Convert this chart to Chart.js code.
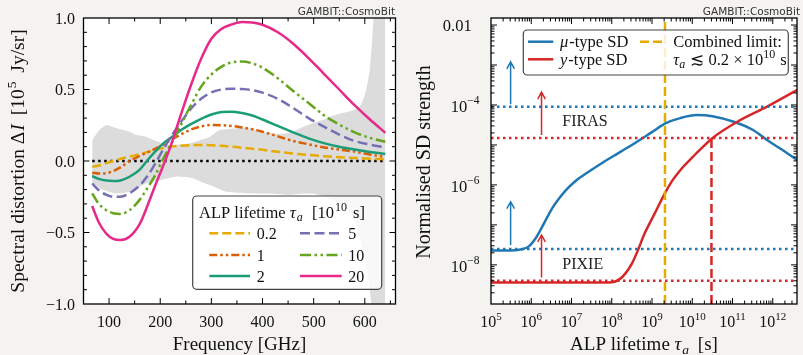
<!DOCTYPE html>
<html><head><meta charset="utf-8">
<script src="https://cdn.jsdelivr.net/npm/chart.js@4.4.1/dist/chart.umd.min.js"></script>
<style>
html,body{margin:0;padding:0;background:#f4f3f0;width:803px;height:355px;overflow:hidden}
canvas{position:absolute;top:0}
#left{left:0}
#right{left:400px}
</style></head><body>
<canvas id="left" width="400" height="355"></canvas>
<canvas id="right" width="403" height="355"></canvas>
<script>
// ================= Left panel data =================
const freqGHz = [67,80,95,108,122,140,160,175,190,205,220,240,260,280,300,320,340,360,380,400,430,460,490,520,550,580,610,640];
const dI_tau0p2 = [-0.04,-0.032,-0.015,0.0,0.015,0.03,0.048,0.062,0.078,0.09,0.1,0.107,0.111,0.112,0.11,0.106,0.1,0.093,0.086,0.078,0.064,0.052,0.042,0.034,0.027,0.021,0.016,0.012];
const dI_tau1 = [-0.082,-0.088,-0.085,-0.07,-0.045,0.0,0.035,0.06,0.085,0.112,0.145,0.185,0.22,0.242,0.252,0.25,0.245,0.235,0.222,0.205,0.172,0.14,0.117,0.095,0.08,0.066,0.046,0.028];
const dI_tau2 = [-0.105,-0.125,-0.137,-0.14,-0.136,-0.11,-0.06,0.005,0.065,0.12,0.16,0.215,0.258,0.295,0.325,0.342,0.345,0.335,0.318,0.29,0.245,0.2,0.158,0.125,0.1,0.08,0.063,0.049];
const dI_tau5 = [-0.157,-0.205,-0.237,-0.25,-0.25,-0.225,-0.17,-0.105,-0.02,0.075,0.165,0.27,0.365,0.435,0.48,0.5,0.506,0.503,0.495,0.478,0.435,0.37,0.3,0.24,0.185,0.14,0.115,0.096];
const dI_tau10 = [-0.226,-0.3,-0.345,-0.365,-0.37,-0.345,-0.27,-0.19,-0.1,0.01,0.11,0.25,0.39,0.52,0.605,0.66,0.69,0.695,0.683,0.652,0.578,0.49,0.405,0.32,0.255,0.2,0.162,0.135];
const dI_tau20 = [-0.315,-0.43,-0.51,-0.545,-0.553,-0.53,-0.44,-0.313,-0.173,-0.04,0.1,0.32,0.53,0.715,0.855,0.925,0.955,0.972,0.968,0.953,0.9,0.82,0.72,0.61,0.5,0.39,0.29,0.198];
const lifetimeLabels = ['0.2','1','2','5','10','20'];
// FIRAS residual band
const bandFreq  = [67,82,95,110,125,140,155,170,185,200,215,232,250,265,280,297,315,330,350,375,400,430,455,480,500,520,540,557,577,590,598,604,609,613,617,620,640];
const bandUpper = [0.147,0.22,0.252,0.235,0.22,0.205,0.18,0.172,0.15,0.13,0.115,0.112,0.12,0.13,0.148,0.17,0.215,0.222,0.229,0.229,0.205,0.19,0.2,0.24,0.265,0.29,0.32,0.335,0.355,0.38,0.44,0.52,0.62,0.78,1.0,1.2,1.2];
const bandLower = [-0.145,-0.19,-0.21,-0.226,-0.225,-0.215,-0.19,-0.16,-0.145,-0.133,-0.12,-0.108,-0.112,-0.122,-0.145,-0.168,-0.195,-0.215,-0.222,-0.226,-0.228,-0.232,-0.236,-0.228,-0.228,-0.25,-0.28,-0.31,-0.39,-0.53,-0.65,-0.76,-0.88,-1.0,-1.15,-1.2,-1.2];
const zeroLineFreq = [67,640];
const freqTicks = [100,200,300,400,500,600];
const dITicks = [1,0.5,0,-0.5,-1];
const dITickLabels = ['1.0','0.5','0.0','\u22120.5','\u22121.0'];

// ================= Right panel data =================
const tauMu = [1e5,3.16e5,6.3e5,8.7e5,1.3e6,1.7e6,2.3e6,3.3e6,4.9e6,7.1e6,1.26e7,2.24e7,4.8e7,1e8,3.16e8,1e9,2.2e9,5e9,1.3e10,3.16e10,1.07e11,3.16e11,7.2e11,1.6e12,4e12];
const muSD  = [2.3e-8,2.3e-8,2.5e-8,2.9e-8,4.7e-8,7.5e-8,1.33e-7,2.6e-7,4.57e-7,7.24e-7,1.26e-6,1.9e-6,3.16e-6,5e-6,1e-5,2.1e-5,3.5e-5,4.7e-5,5.6e-5,5.25e-5,3.8e-5,2.4e-5,1.33e-5,7.9e-6,4.2e-6];
const tauY = [1e5,3.16e7,1e8,1.58e8,2.24e8,3.16e8,4.6e8,6.3e8,1.12e9,2.2e9,3.16e9,5.1e9,9.1e9,1.45e10,3.16e10,1.32e11,7.2e11,4e12];
const ySD  = [3.6e-9,3.6e-9,3.7e-9,4.4e-9,6.3e-9,1.07e-8,2.5e-8,5.6e-8,1.78e-7,6.8e-7,1.26e-6,2.37e-6,4.4e-6,7.1e-6,1.48e-5,3.8e-5,9.1e-5,2.37e-4];
const limitNames  = ['FIRAS mu','FIRAS y','PIXIE mu','PIXIE y'];
const limitValues = [9e-5,1.5e-5,2.5e-8,4e-9];
const combinedLimitTau = 2.1e9;
const yFirasCrossTau = 3e10;
const arrowTau  = [3.07e5,1.8e6,3.07e5,1.8e6];
const arrowLow  = [1.05e-4,1.78e-5,3.16e-8,4.8e-9];
const arrowHigh = [1.2e-3,2.1e-4,3.8e-7,5.6e-8];
const experimentNames = ['FIRAS','PIXIE'];
const experimentTau = [5.9e6,5.9e6];
const experimentSD  = [4e-5,1.1e-8];
const tauTicks = [1e5,1e6,1e7,1e8,1e9,1e10,1e11,1e12];
const tauTickExp = ['5','6','7','8','9','10','11','12'];
const sdTicks = [1e-2,1e-4,1e-6,1e-8];
const sdTickExp = [null,'\u22124','\u22126','\u22128'];

// ================= helpers =================
const SERIF = '"Liberation Serif","Times New Roman",serif';
const F = (sz,it)=> (it?'italic ':'') + sz + 'px ' + SERIF;
function rich(ctx,x,y,parts,align){
  let w=0; for(const p of parts){ctx.font=p.f; w+=ctx.measureText(p.t).width+(p.gap||0);}
  let cx = align==='center'? x-w/2 : (align==='right'? x-w : x);
  ctx.textAlign='left'; ctx.textBaseline='alphabetic';
  for(const p of parts){ctx.font=p.f; ctx.fillText(p.t,cx,y+(p.dy||0)); cx+=ctx.measureText(p.t).width+(p.gap||0);}
  return w;
}
function roundRect(ctx,x,y,w,h,r){ctx.beginPath();ctx.moveTo(x+r,y);ctx.arcTo(x+w,y,x+w,y+h,r);ctx.arcTo(x+w,y+h,x,y+h,r);ctx.arcTo(x,y+h,x,y,r);ctx.arcTo(x,y,x+w,y,r);ctx.closePath();}
const bgPlugin = {id:'bg', beforeDraw(chart){const {ctx,chartArea:a}=chart; ctx.save(); ctx.fillStyle='#ffffff'; ctx.fillRect(a.left,a.top,a.right-a.left,a.bottom-a.top); ctx.restore();}};
function gambit(ctx,xr){ctx.save(); ctx.fillStyle='#333'; ctx.font='10.5px "DejaVu Sans",sans-serif'; ctx.textAlign='right'; ctx.textBaseline='alphabetic'; ctx.fillText('GAMBIT::CosmoBit',xr,15); ctx.restore();}
const pts = (xs,ys)=> xs.map((x,i)=>({x, y:ys[i]}));

const base = {responsive:false, animation:false, devicePixelRatio:1, events:[],
  plugins:{legend:{display:false}, tooltip:{enabled:false}},
  elements:{point:{radius:0}}};
const hiddenAxis = (extra)=>Object.assign({ticks:{display:false}, grid:{display:false}, border:{display:false}}, extra);
const TICKF = 16;

// ================= Left chart =================
const curveStyles = [
  {color:'#e6ab02', dash:[9,4]},
  {color:'#d95f02', dash:[8,3,2.5,3,2.5,3]},
  {color:'#1b9e77', dash:[]},
  {color:'#7570b3', dash:[10,4.5]},
  {color:'#66a61e', dash:[11,3.5,2.5,3.5,2.5,3.5]},
  {color:'#e7298a', dash:[]}
];
const curveData = [dI_tau0p2,dI_tau1,dI_tau2,dI_tau5,dI_tau10,dI_tau20];
const leftSets = [
  {label:'band upper', data:pts(bandFreq,bandUpper), borderWidth:0, borderColor:'rgba(0,0,0,0)', backgroundColor:'#dcdcdc', fill:'+1', order:100, tension:0.2},
  {label:'band lower', data:pts(bandFreq,bandLower), borderWidth:0, borderColor:'rgba(0,0,0,0)', fill:false, order:99, tension:0.2},
  {label:'zero', data:zeroLineFreq.map(x=>({x,y:0})), borderColor:'#000', borderWidth:2.5, borderDash:[2.5,3.5], order:50}
];
curveData.forEach((d,i)=>leftSets.push({label:lifetimeLabels[i], data:pts(freqGHz,d), borderColor:curveStyles[i].color, borderWidth:2.5, borderDash:curveStyles[i].dash, cubicInterpolationMode:'monotone', order:20-i}));

const leftDecor = {id:'leftDecor', afterDraw(chart){
  const {ctx, chartArea:a, scales:{x,y}} = chart;
  ctx.save();
  ctx.strokeStyle='#000'; ctx.lineWidth=1; ctx.beginPath();
  for(let v=50; v<=660; v+=50){const px=x.getPixelForValue(v); if(px<=a.left+0.5||px>=a.right-0.5) continue; const L=(v%100===0)?6:3.5;
    ctx.moveTo(px,a.bottom); ctx.lineTo(px,a.bottom-L); ctx.moveTo(px,a.top); ctx.lineTo(px,a.top+L);}
  for(let k=-10;k<=10;k++){const v=k/10; const py=y.getPixelForValue(v); if(py<=a.top+0.5||py>=a.bottom-0.5) continue; const L=(k%5===0)?6:3.5;
    ctx.moveTo(a.left,py); ctx.lineTo(a.left+L,py); ctx.moveTo(a.right,py); ctx.lineTo(a.right-L,py);}
  ctx.stroke();
  ctx.lineWidth=1.3; ctx.strokeRect(a.left,a.top,a.right-a.left,a.bottom-a.top);
  ctx.fillStyle='#111';
  dITicks.forEach((v,i)=>{rich(ctx,75,y.getPixelForValue(v)+5.5,[{t:dITickLabels[i],f:F(TICKF)}],'right');});
  freqTicks.forEach(v=>{rich(ctx,x.getPixelForValue(v),327,[{t:String(v),f:F(TICKF)}],'center');});
  rich(ctx,(a.left+a.right)/2,350,[{t:'Frequency [GHz]',f:F(19)}],'center');
  ctx.save(); ctx.translate(24,(a.top+a.bottom)/2); ctx.rotate(-Math.PI/2);
  rich(ctx,0,0,[{t:'Spectral distortion ',f:F(19.5)},{t:'\u0394',f:F(19.5),gap:1},{t:'I',f:F(19.5,true),gap:4},{t:' [10',f:F(19.5),gap:1},{t:'5',f:F(13.5),dy:-8,gap:4},{t:' Jy/sr]',f:F(19.5)}],'center');
  ctx.restore();
  // legend
  ctx.fillStyle='rgba(255,255,255,0.8)'; roundRect(ctx,192.7,196,189,93.3,4); ctx.fill();
  ctx.strokeStyle='#444'; ctx.lineWidth=1.2; ctx.stroke();
  ctx.fillStyle='#111';
  rich(ctx,199,218,[{t:'ALP lifetime ',f:F(16.5)},{t:'\u03c4',f:F(17,true),gap:1},{t:'a',f:F(12,true),dy:3,gap:5},{t:' [10',f:F(16.5),gap:1},{t:'10',f:F(12),dy:-7,gap:2},{t:' s]',f:F(16.5)}],'left');
  const rows=[233.3,255,276], cols=[[209.3,250,256.7],[300,341.7,348.3]];
  for(let i=0;i<6;i++){const c=cols[Math.floor(i/3)], ry=rows[i%3], st=curveStyles[i];
    ctx.strokeStyle=st.color; ctx.lineWidth=2.5; ctx.setLineDash(st.dash); ctx.beginPath(); ctx.moveTo(c[0],ry); ctx.lineTo(c[1],ry); ctx.stroke(); ctx.setLineDash([]);
    ctx.fillStyle='#111'; rich(ctx,c[2],ry+5.5,[{t:lifetimeLabels[i],f:F(16)}],'left');}
  ctx.restore();
  gambit(ctx,395);
}};

new Chart(document.getElementById('left'),{type:'line', data:{datasets:leftSets},
  options:Object.assign({},base,{layout:{padding:{left:0,top:18,right:4.5,bottom:0}},
    scales:{x:hiddenAxis({type:'linear',min:50,max:660,afterFit:s=>{s.height=51;}}),
            y:hiddenAxis({type:'linear',min:-1,max:1,afterFit:s=>{s.width=83.5;}})}}),
  plugins:[bgPlugin,leftDecor]});

// ================= Right chart =================
const TAU_MIN=1e5, TAU_MAX=4e12, SD_MIN=1.05e-9, SD_MAX=0.015;
const BLUE='#1f77b4', RED='#d62728', GOLD='#e6ab02';
const limitColors=[BLUE,RED,BLUE,RED];
const rightSets = [
  {label:'mu-type SD', data:pts(tauMu,muSD), borderColor:BLUE, borderWidth:2.5, cubicInterpolationMode:'monotone', order:10},
  {label:'y-type SD', data:pts(tauY,ySD), borderColor:RED, borderWidth:2.5, cubicInterpolationMode:'monotone', order:9}
];
limitValues.forEach((v,i)=>rightSets.push({label:limitNames[i], data:[{x:TAU_MIN,y:v},{x:TAU_MAX,y:v}], borderColor:limitColors[i], borderWidth:2.5, borderDash:[2.5,3.5], order:5}));
rightSets.push({label:'y FIRAS crossing', data:[{x:yFirasCrossTau,y:SD_MIN},{x:yFirasCrossTau,y:limitValues[1]}], borderColor:RED, borderWidth:2.5, borderDash:[9,4], order:3});
rightSets.push({label:'Combined limit', data:[{x:combinedLimitTau,y:SD_MIN},{x:combinedLimitTau,y:SD_MAX}], borderColor:GOLD, borderWidth:2.5, borderDash:[9,4], order:2});

const rightDecor = {id:'rightDecor', afterDraw(chart){
  const {ctx, chartArea:a, scales:{x,y}} = chart;
  ctx.save();
  for(let i=0;i<arrowTau.length;i++){const px=x.getPixelForValue(arrowTau[i]), y0=y.getPixelForValue(arrowLow[i]), y1=y.getPixelForValue(arrowHigh[i]);
    ctx.strokeStyle=limitColors[i]; ctx.lineWidth=1.5; ctx.beginPath(); ctx.moveTo(px,y0); ctx.lineTo(px,y1); ctx.moveTo(px-3.8,y1+7); ctx.lineTo(px,y1); ctx.lineTo(px+3.8,y1+7); ctx.stroke();}
  ctx.fillStyle='#222';
  experimentNames.forEach((n,i)=>rich(ctx,x.getPixelForValue(experimentTau[i]),y.getPixelForValue(experimentSD[i])+5.5,[{t:n,f:F(16)}],'left'));
  ctx.strokeStyle='#000'; ctx.lineWidth=1; ctx.beginPath();
  for(let e=5;e<=12;e++){for(let k=1;k<=9;k++){const v=k*Math.pow(10,e); if(v<TAU_MIN||v>TAU_MAX) continue; const px=x.getPixelForValue(v); if(px<=a.left+0.5||px>=a.right-0.5) continue; const L=k===1?6:3.5;
    ctx.moveTo(px,a.bottom); ctx.lineTo(px,a.bottom-L); ctx.moveTo(px,a.top); ctx.lineTo(px,a.top+L);}}
  for(let e=-9;e<=-2;e++){for(let k=1;k<=9;k++){const v=k*Math.pow(10,e); if(v<SD_MIN||v>SD_MAX) continue; const py=y.getPixelForValue(v); if(py<=a.top+0.5||py>=a.bottom-0.5) continue; const L=k===1?6:3.5;
    ctx.moveTo(a.left,py); ctx.lineTo(a.left+L,py); ctx.moveTo(a.right,py); ctx.lineTo(a.right-L,py);}}
  ctx.stroke();
  ctx.lineWidth=1.3; ctx.strokeRect(a.left,a.top,a.right-a.left,a.bottom-a.top);
  ctx.fillStyle='#111';
  sdTicks.forEach((v,i)=>{const py=y.getPixelForValue(v);
    if(sdTickExp[i]===null) rich(ctx,71.7,py+6,[{t:'0.01',f:F(16.5)}],'right');
    else rich(ctx,80.5,py+7,[{t:'10',f:F(16.5)},{t:sdTickExp[i],f:F(11.5),dy:-7.5,gap:1}],'right');});
  tauTicks.forEach((v,i)=>{rich(ctx,x.getPixelForValue(v),327,[{t:'10',f:F(TICKF)},{t:tauTickExp[i],f:F(11),dy:-7}],'center');});
  rich(ctx,(a.left+a.right)/2,350,[{t:'ALP lifetime ',f:F(19)},{t:'\u03c4',f:F(19,true),gap:1},{t:'a',f:F(13.5,true),dy:3.5,gap:4},{t:' [s]',f:F(19)}],'center');
  ctx.save(); ctx.translate(30,(a.top+a.bottom)/2+1); ctx.rotate(-Math.PI/2);
  rich(ctx,0,0,[{t:'Normalised SD strength',f:F(20)}],'center'); ctx.restore();
  // legend
  ctx.fillStyle='rgba(255,255,255,0.8)'; roundRect(ctx,123.3,30,265,45,4); ctx.fill();
  ctx.strokeStyle='#444'; ctx.lineWidth=1.2; ctx.stroke();
  const r1=41.7, r2=59.3;
  ctx.lineWidth=2.5;
  ctx.strokeStyle=BLUE; ctx.beginPath(); ctx.moveTo(128,r1); ctx.lineTo(153.3,r1); ctx.stroke();
  ctx.strokeStyle=RED; ctx.beginPath(); ctx.moveTo(128,r2); ctx.lineTo(153.3,r2); ctx.stroke();
  ctx.strokeStyle=GOLD; ctx.setLineDash([9,4]); ctx.beginPath(); ctx.moveTo(240,r1); ctx.lineTo(263.3,r1); ctx.stroke(); ctx.setLineDash([]);
  ctx.fillStyle='#111';
  rich(ctx,160,r1+5.5,[{t:'\u03bc',f:F(16.5,true),gap:1},{t:'-type SD',f:F(16.5)}],'left');
  rich(ctx,160,r2+5.5,[{t:'y',f:F(16.5,true),gap:1},{t:'-type SD',f:F(16.5)}],'left');
  rich(ctx,273.3,r1+5.5,[{t:'Combined limit:',f:F(16.5)}],'left');
  rich(ctx,273.3,r2+6,[{t:'\u03c4',f:F(16.5,true)},{t:'a',f:F(12,true),dy:3,gap:1},{t:' \u2272 0.2 \u00d7 10',f:F(16.5)},{t:'10',f:F(12),dy:-7,gap:1},{t:' s',f:F(16.5)}],'left');
  ctx.restore();
  gambit(ctx,400);
}};

new Chart(document.getElementById('right'),{type:'line', data:{datasets:rightSets},
  options:Object.assign({},base,{layout:{padding:{left:0,top:18,right:6,bottom:0}},
    scales:{x:hiddenAxis({type:'logarithmic',min:TAU_MIN,max:TAU_MAX,afterFit:s=>{s.height=51;}}),
            y:hiddenAxis({type:'logarithmic',min:SD_MIN,max:SD_MAX,afterFit:s=>{s.width=91;}})}}),
  plugins:[bgPlugin,rightDecor]});
</script>
</body></html>
